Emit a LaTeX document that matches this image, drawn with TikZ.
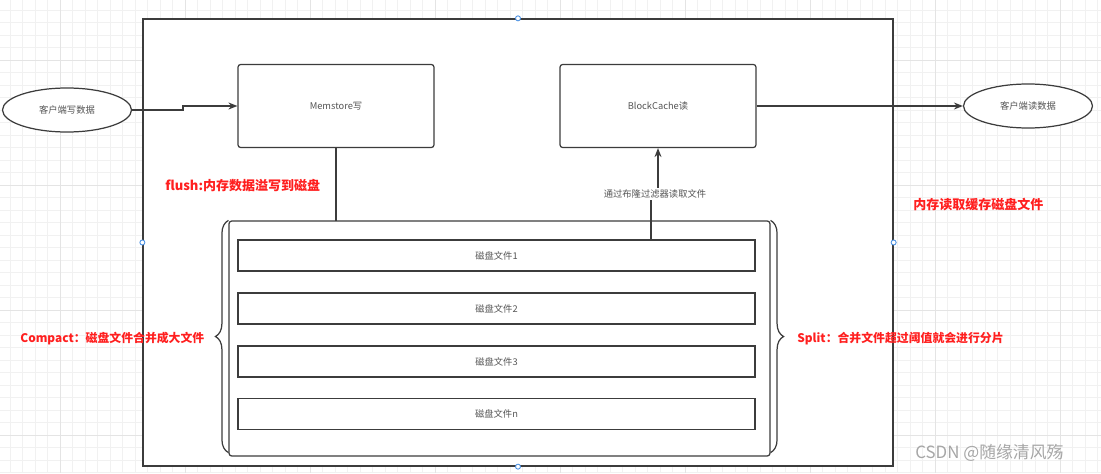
\documentclass[tikz,border=0pt]{standalone}
\usepackage{fontspec}
\setmainfont{Noto Sans CJK SC}
\usetikzlibrary{arrows.meta,shapes.geometric,decorations.pathreplacing}
\definecolor{linegray}{HTML}{3C3C3C}
\definecolor{txtgray}{HTML}{555555}
\definecolor{notered}{HTML}{FF1F1F}
\definecolor{gridminor}{HTML}{F1F1F1}
\definecolor{gridmajor}{HTML}{E4E4E4}
\definecolor{handleblue}{HTML}{4A90E2}

\begin{document}
\begin{tikzpicture}[x=0.02cm, y=-0.02cm,
    every node/.style={font=\fontsize{5.3pt}{6pt}\selectfont, text=txtgray, inner sep=0pt},
    box/.style={draw=linegray, line width=0.7pt, rounded corners=1.5pt, fill=white, minimum width=3.92cm, minimum height=1.66cm},
    client/.style={ellipse, draw=linegray, line width=0.7pt, fill=white, minimum width=2.58cm, minimum height=0.88cm},
    file/.style={draw=linegray, line width=0.8pt, fill=white, minimum width=10.34cm, minimum height=0.62cm},
    note/.style={font=\fontsize{7.4pt}{8pt}\selectfont\bfseries, text=notered, anchor=west},
    sidenote/.style={note, font=\fontsize{6.75pt}{8pt}\selectfont\bfseries},
    handle/.style={circle, draw=handleblue, fill=white, line width=0.5pt, minimum size=0.1cm},
    arr/.style={-{Stealth[length=1.8mm,width=1.4mm]}, draw=linegray, line width=0.7pt},
    conn/.style={draw=linegray, line width=0.7pt}]
  \useasboundingbox (0,0) rectangle (1101,473);
  \foreach \x in {10,22.5,...,1100} {
    \draw[gridminor, line width=0.4pt] (\x,0) -- (\x,473);
  }
  \foreach \y in {10,22.5,...,473} {
    \draw[gridminor, line width=0.4pt] (0,\y) -- (1101,\y);
  }
  \foreach \x in {60,185,...,1100} {
    \draw[gridmajor, line width=0.4pt] (\x,0) -- (\x,473);
  }
  \foreach \y in {60,185,...,473} {
    \draw[gridmajor, line width=0.4pt] (0,\y) -- (1101,\y);
  }

  \node[draw=linegray, line width=0.8pt, fill=white, minimum width=15cm, minimum height=8.94cm] (frame) at (518,242.5) {};

  \node[client] (wcli) at (67,110) {客户端写数据};
  \node[client] (rcli) at (1028,106) {客户端读数据};
  \node[box] (mem) at (336,106) {Memstore写};
  \node[box] (bc) at (658,106) {BlockCache读};

  \draw[conn] (mem.south) -- (336,221);
  \node[draw=linegray, line width=0.7pt, rounded corners=1.5pt, fill=white, minimum width=10.82cm, minimum height=4.7cm] (disk) at (499.5,338.5) {};
  \draw[conn, decorate, decoration={brace, amplitude=0.26cm}] ([yshift=0.08cm]disk.south west) -- (disk.north west);
  \draw[conn, decorate, decoration={brace, amplitude=0.26cm}] (disk.north east) -- ([yshift=0.08cm]disk.south east);

  \foreach \i/\t/\y in {1/1/255.5, 2/2/308.5, 3/3/361.5, 4/n/414} {
    \node[file] (f\i) at (496.5,\y) {磁盘文件\t};
  }

  \coordinate (rdx) at (651,0);
  \node[fill=white, inner sep=1pt] (bloom) at (655,194) {通过布隆过滤器读取文件};
  \draw[arr] (f1.north -| rdx) -- (rdx |- bloom.south) -- ++(0,-4) -| (bc.south);
  \node[fill=white, inner sep=1pt] at (bloom) {通过布隆过滤器读取文件};

  \draw[arr] (wcli.east) -- (183,110) |- (mem.west);
  \draw[arr] (bc.east) -- (rcli.west);

  \node[note] (flush) at (165,186) {flush:内存数据溢写到磁盘};
  \node[note] (cache) at (913,205) {内存读取缓存磁盘文件};
  \node[sidenote] (compact) at (20,339) {Compact：磁盘文件合并成大文件};
  \node[sidenote] (split) at (797,339) {Split：合并文件超过阈值就会进行分片};

  \foreach \a in {north,south,east,west} {
    \node[handle] (h-\a) at (frame.\a) {};
  }

  \node[anchor=west, font=\fontsize{9.6pt}{10pt}\selectfont, text=black!35] (mark) at (915,453) {CSDN @随缘清风殇};
\end{tikzpicture}
\end{document}
